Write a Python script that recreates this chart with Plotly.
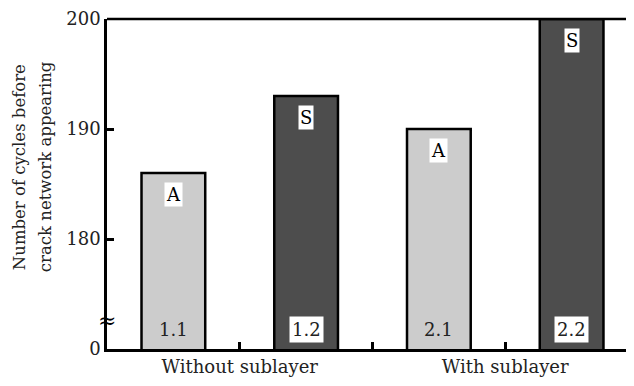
import plotly.graph_objects as go

# ---- data ----
positions = [0, 1, 2, 3]
bar_ids = ["1.1", "1.2", "2.1", "2.2"]
bar_codes = ["A", "S", "A", "S"]
cycles = [186, 193, 190, 200]
bar_colors = ["#cccccc", "#4d4d4d", "#cccccc", "#4d4d4d"]
group_labels = ["Without sublayer", "", "With sublayer"]
group_ticks = [0.5, 1.5, 2.5]
axis_break_value = 170          # value drawn at the position of the broken "0"
y_tickvals = [170, 180, 190, 200]
y_ticktext = ["0", "180", "190", "200"]
y_title_lines = ["Number of cycles before", "crack network appearing"]

FONT = "DejaVu Serif"

fig = go.Figure()
fig.add_trace(go.Bar(
    x=positions, y=cycles, width=0.48,
    marker=dict(color=bar_colors, line=dict(color="black", width=2.5)),
    hoverinfo="skip", showlegend=False,
))

# code labels near bar tops
for xp, v, code in zip(positions, cycles, bar_codes):
    fig.add_annotation(x=xp, y=v, text=code, showarrow=False, yshift=-21,
                       font=dict(family=FONT, size=18, color="black"),
                       bgcolor="white", borderpad=1)

# id labels at bar bottoms
for xp, bid, col in zip(positions, bar_ids, bar_colors):
    fig.add_annotation(x=xp, y=axis_break_value, text=bid, showarrow=False, yshift=20,
                       font=dict(family=FONT, size=18, color="#222"),
                       bgcolor="white" if col == "#4d4d4d" else "rgba(0,0,0,0)",
                       borderpad=2)

# y-axis title (two lines)
for line, shift in zip(y_title_lines, [-88, -62]):
    fig.add_annotation(xref="paper", yref="paper", x=0, y=0.551, xshift=shift,
                       text=line, textangle=-90, showarrow=False,
                       xanchor="center", yanchor="middle",
                       font=dict(family=FONT, size=16.5, color="#222"))

# axis break symbol
fig.add_annotation(xref="paper", yref="y", x=0, y=172.6, text="≈", showarrow=False,
                   xanchor="center", yanchor="middle",
                   font=dict(family=FONT, size=22, color="black"))

# top frame line
fig.add_shape(type="line", xref="paper", yref="paper", x0=0, x1=1, y0=1, y1=1,
              line=dict(color="black", width=2.5))

fig.update_layout(
    width=626, height=378,
    margin=dict(l=99, r=0, t=7, b=37),
    plot_bgcolor="white", paper_bgcolor="white",
    font=dict(family=FONT, color="#222"),
    xaxis=dict(range=[-0.5, 3.47], tickvals=group_ticks, ticktext=group_labels,
               ticks="inside", ticklen=7, tickwidth=2.5, tickcolor="black",
               showline=True, linecolor="black", linewidth=2.5,
               showgrid=False, zeroline=False, tickfont=dict(size=18, family=FONT)),
    yaxis=dict(range=[170, 200], tickvals=y_tickvals, ticktext=y_ticktext,
               ticks="inside", ticklen=7, tickwidth=2.5, tickcolor="black",
               showline=True, linecolor="black", linewidth=2.5,
               ticklabeloverflow="allow",
               showgrid=False, zeroline=False, tickfont=dict(size=18, family=FONT)),
)

fig.write_html("out.html")
